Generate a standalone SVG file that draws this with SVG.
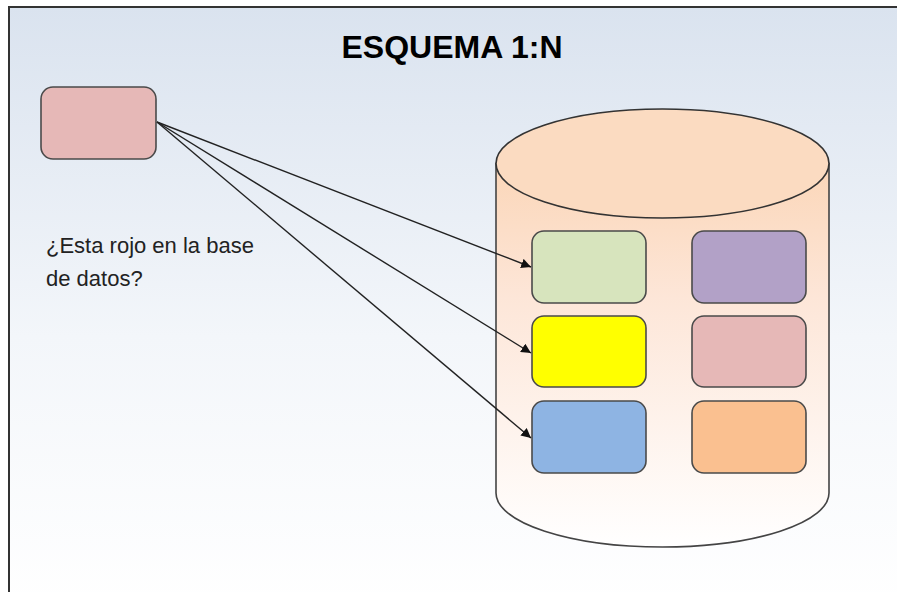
<svg xmlns="http://www.w3.org/2000/svg" width="897" height="592" viewBox="0 0 897 592">
<defs>
<linearGradient id="bg" x1="0" y1="0" x2="0" y2="1">
<stop offset="0" stop-color="#dae3ef"/>
<stop offset="0.55" stop-color="#f3f6fa"/>
<stop offset="1" stop-color="#ffffff"/>
</linearGradient>
<linearGradient id="cyl" x1="0" y1="0" x2="0" y2="1">
<stop offset="0" stop-color="#fbd6b8"/>
<stop offset="0.35" stop-color="#fde6d8"/>
<stop offset="1" stop-color="#ffffff"/>
</linearGradient>
<marker id="arr" viewBox="0 0 10 10" refX="10" refY="5" markerWidth="7" markerHeight="7" markerUnits="strokeWidth" orient="auto">
<path d="M0,0 L10,5 L0,10 z" fill="#111"/>
</marker>
<style>
.box{stroke:#4a4a4a;stroke-width:1.6}
.conn{stroke:#222;stroke-width:1.4;fill:none;marker-end:url(#arr)}
.lbl{font-family:"Liberation Sans",Arial,sans-serif;fill:#222}
</style>
</defs>
<rect x="0" y="0" width="897" height="592" fill="#ffffff"/>
<rect x="9" y="7" width="900" height="600" fill="url(#bg)" stroke="#333" stroke-width="2"/>
<text class="lbl" x="452" y="58" text-anchor="middle" font-size="32" font-weight="bold" fill="#000" style="fill:#000">ESQUEMA 1:N</text>
<g id="source">
<rect class="box" x="41" y="87" width="115" height="72" rx="12" fill="#e6b8b7"/>
</g>
<g id="question">
<text class="lbl" x="46" y="253" font-size="22">¿Esta rojo en la base</text>
<text class="lbl" x="46" y="286" font-size="22">de datos?</text>
</g>
<g id="database">
<path d="M496,163.5 L496,493 A166.5,54 0 0 0 829,493 L829,163.5 Z" fill="url(#cyl)" stroke="#444" stroke-width="1.6"/>
<ellipse cx="662.5" cy="163.5" rx="166.5" ry="54.5" fill="#fbdbc1" stroke="#333" stroke-width="1.6"/>
</g>
<g id="green"><rect class="box" x="532" y="231" width="114" height="72" rx="12" fill="#d7e4bd"/></g>
<g id="purple"><rect class="box" x="692" y="231" width="114" height="72" rx="12" fill="#b2a1c7"/></g>
<g id="yellow"><rect class="box" x="532" y="316" width="114" height="71" rx="12" fill="#ffff00"/></g>
<g id="pink"><rect class="box" x="692" y="316" width="114" height="71" rx="12" fill="#e6b8b7"/></g>
<g id="blue"><rect class="box" x="532" y="401" width="114" height="72" rx="12" fill="#8eb4e3"/></g>
<g id="orange"><rect class="box" x="692" y="401" width="114" height="72" rx="12" fill="#fac090"/></g>
<g id="connectors">
<line class="conn" x1="157" y1="122" x2="531" y2="267"/>
<line class="conn" x1="157" y1="122" x2="531" y2="353"/>
<line class="conn" x1="157" y1="122" x2="531" y2="438"/>
</g>
</svg>
